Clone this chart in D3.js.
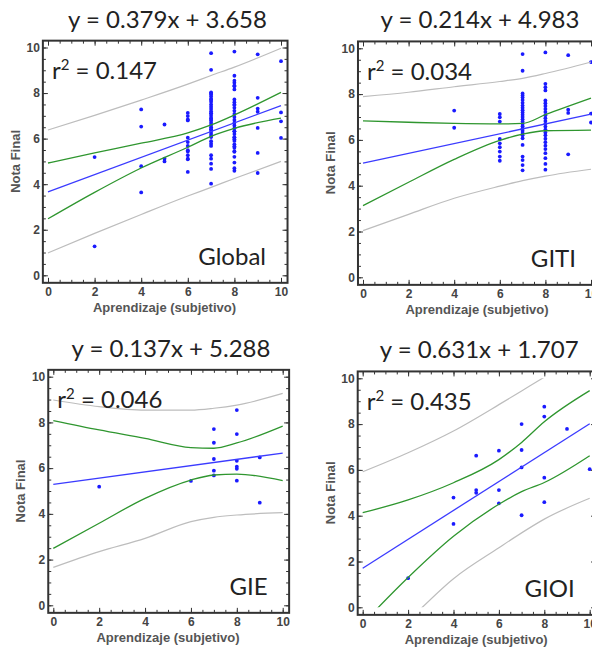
<!DOCTYPE html>
<html>
<head>
<meta charset="utf-8">
<script src="https://cdn.jsdelivr.net/npm/d3@7"></script>
<style>
  body { margin: 0; background: #fff; }
  svg { display: block; }
  .big { font-family: Lato, "Open Sans", sans-serif; font-size: 24px; fill: #222; }
  .tick-lbl { font-family: "Liberation Sans", Arial, sans-serif; font-size: 12px; font-weight: bold; fill: #444; }
  .axis-title { font-family: "Liberation Sans", Arial, sans-serif; font-size: 13px; font-weight: bold; fill: #555; }
</style>
</head>
<body>
<div id="chart"></div>
<script>

var groups = ['Global', 'GITI', 'GIE', 'GIOI'];
var slopes = [0.379, 0.214, 0.137, 0.631];
var intercepts = [3.658, 4.983, 5.288, 1.707];
var r2 = [0.147, 0.034, 0.046, 0.435];

var majorTicks = [0, 2, 4, 6, 8, 10];
var minorTicks = [0, 0.5, 1, 1.5, 2, 2.5, 3, 3.5, 4, 4.5, 5, 5.5, 6, 6.5, 7, 7.5, 8, 8.5, 9, 9.5, 10];

// puntos [aprendizaje, nota final]
var ptsGITI = [
  [4,7.28],[4,6.53],
  [6,7.13],[6,6.99],[6,6.8],[6,6.04],[6,5.85],[6,5.68],[6,5.49],[6,5.27],[6,5.09],
  [7,9.75],[7,9.02],[7,8.03],[7,7.94],[7,7.85],[7,7.74],[7,7.62],[7,7.5],[7,7.4],[7,7.3],[7,7.2],[7,7.1],
  [7,7.0],[7,6.9],[7,6.8],[7,6.7],[7,6.6],[7,6.5],[7,6.4],[7,6.3],[7,6.2],[7,6.07],[7,5.78],[7,5.27],
  [7,5.12],[7,4.9],[7,4.67],
  [8,9.82],[8,8.45],[8,8.3],[8,8.16],[8,7.72],[8,7.6],[8,7.48],[8,7.35],[8,7.22],[8,7.08],[8,6.95],
  [8,6.82],[8,6.7],[8,6.58],[8,6.45],[8,6.32],[8,6.2],[8,6.05],[8,5.9],[8,5.75],[8,5.6],[8,5.42],
  [8,5.2],[8,4.95],[8,4.7],
  [9,9.7],[9,7.32],[9,7.18],[9,5.37],
  [10,9.4],[10,7.15],[10,6.76]
];
var ptsGIE = [
  [2,5.19],[6,5.44],[7,7.71],[7,7.11],[7,6.4],[7,5.89],[7,5.68],
  [8,8.54],[8,7.49],[8,6.32],[8,6.06],[8,5.97],[8,5.45],[9,6.47],[9,4.49]
];
var ptsGIOI = [
  [2,1.27],[4,4.79],[4,3.64],[5,6.62],[5,5.12],[5,5.0],[6,6.84],[6,5.12],[6,4.54],
  [7,8.0],[7,6.87],[7,6.11],[7,4.02],[8,8.76],[8,8.33],[8,5.66],[8,4.59],[9,7.79],[10,6.03]
];
var ptsGlobal = ptsGITI.concat(ptsGIE, ptsGIOI);

var bandX = [0, 2, 4, 6, 7, 8, 10];
var confHi = [
  [4.93, 5.37, 5.80, 6.25, 6.60, 7.04, 8.03],
  [6.83, 6.77, 6.72, 6.70, 6.72, 7.10, 7.82],
  [8.08, 7.67, 7.30, 6.90, 6.87, 7.10, 7.84],
  [4.13, 4.69, 5.44, 6.45, 7.20, 8.10, 9.46]
];
var confLo = [
  [2.48, 3.64, 4.71, 5.62, 6.10, 6.45, 6.90],
  [3.13, 4.15, 5.15, 5.98, 6.25, 6.40, 6.43],
  [2.49, 3.59, 4.68, 5.48, 5.70, 5.74, 5.45],
  [-0.71, 1.30, 3.10, 4.50, 5.05, 5.45, 6.62]
];
var predHi = [
  [6.38, 7.02, 7.69, 8.39, 8.77, 9.14, 9.97],
  [7.89, 8.08, 8.32, 8.55, 8.69, 8.90, 9.40],
  [8.98, 8.69, 8.54, 8.54, 8.62, 8.76, 9.27],
  [5.92, 6.75, 7.70, 8.85, 9.45, 10.05, 11.30]
];
var predLo = [
  [0.98, 1.84, 2.67, 3.48, 3.86, 4.25, 5.00],
  [2.04, 2.75, 3.45, 3.98, 4.22, 4.42, 4.72],
  [1.66, 2.35, 2.93, 3.66, 3.85, 3.95, 4.05],
  [-2.50, -0.60, 1.25, 2.60, 3.25, 3.85, 4.76]
];

var points = [ptsGlobal, ptsGITI, ptsGIE, ptsGIOI];

// pixel position of x=0 / x=10 and y=10 / y=0 for each panel
var panels = [
  { left: 48, right: 281, top: 47.5, bottom: 275.3 },
  { left: 363, right: 591, top: 48.3, bottom: 277.3 },
  { left: 53.3, right: 282.7, top: 376.7, bottom: 605.3 },
  { left: 362.7, right: 589.7, top: 378.3, bottom: 607.3 }
];

var svg = d3.select('#chart')
  .append('svg')
    .attr('width', 592)
    .attr('height', 651);

var fmt = d3.format('.3f');

panels.forEach(function (p, i) {

  var x = d3.scaleLinear().domain([0, 10]).range([p.left, p.right]);
  var y = d3.scaleLinear().domain([0, 10]).range([p.bottom, p.top]);

  var g = svg.append('g');

  var fx0 = x(-0.22), fx1 = x(10.28), fy0 = y(10.3), fy1 = y(-0.33);

  g.append('clipPath')
      .attr('id', 'clip' + i)
    .append('rect')
      .attr('x', x(-0.05))
      .attr('y', y(10))
      .attr('width', x(10.05) - x(-0.05))
      .attr('height', y(0) - y(10));

  // dots
  g.append('g').selectAll('circle')
      .data(points[i])
      .enter()
    .append('circle')
      .attr('cx', function (d) { return x(d[0]); })
      .attr('cy', function (d) { return y(d[1]); })
      .attr('r', 1.9)
      .attr('fill', '#1a1aff');

  var curve = d3.line()
      .x(function (d) { return x(d[0]); })
      .y(function (d) { return y(d[1]); })
      .curve(d3.curveMonotoneX);

  function band(arr) {
    return bandX.map(function (v, k) { return [v, arr[k]]; });
  }

  var lines = g.append('g').attr('clip-path', 'url(#clip' + i + ')');

  [predHi[i], predLo[i]].forEach(function (arr) {
    lines.append('path')
        .attr('d', curve(band(arr)))
        .attr('fill', 'none')
        .attr('stroke', '#bdbdbd')
        .attr('stroke-width', 1.2);
  });

  [confHi[i], confLo[i]].forEach(function (arr) {
    lines.append('path')
        .attr('d', curve(band(arr)))
        .attr('fill', 'none')
        .attr('stroke', '#2f962f')
        .attr('stroke-width', 1.3);
  });

  lines.append('path')
      .attr('d', d3.line()
        .x(function (d) { return x(d); })
        .y(function (d) { return y(intercepts[i] + slopes[i] * d); })([0, 10]))
      .attr('fill', 'none')
      .attr('stroke', '#3b3bff')
      .attr('stroke-width', 1.3);

  // ticks, all pointing inside the frame
  function ticks(axis, size, tv, labels) {
    return axis
      .tickValues(tv)
      .tickSizeInner(-size)
      .tickSizeOuter(0)
      .tickFormat(labels ? d3.format('d') : '');
  }

  var sides = [
    [function () { return d3.axisBottom(x); }, 'translate(0,' + fy1 + ')', true, 5],
    [function () { return d3.axisLeft(y); }, 'translate(' + fx0 + ',0)', true, 3],
    [function () { return d3.axisTop(x); }, 'translate(0,' + fy0 + ')', false, 0],
    [function () { return d3.axisRight(y); }, 'translate(' + fx1 + ',0)', false, 0]
  ];

  sides.forEach(function (s) {
    g.append('g')
        .attr('transform', s[1])
        .call(ticks(s[0](), 5, majorTicks, s[2]).tickPadding(s[3]))
        .call(function (a) { a.select('.domain').remove(); })
        .call(function (a) {
          a.attr('font-family', null).attr('font-size', null);
          a.selectAll('line').attr('stroke', '#333');
          a.selectAll('text').attr('class', 'tick-lbl');
        });

    g.append('g')
        .attr('transform', s[1])
        .call(ticks(s[0](), 3, minorTicks, false))
        .call(function (a) { a.select('.domain').remove(); })
        .call(function (a) { a.selectAll('line').attr('stroke', '#333'); });
  });

  // frame
  g.append('rect')
      .attr('x', fx0)
      .attr('y', fy0)
      .attr('width', fx1 - fx0)
      .attr('height', fy1 - fy0)
      .attr('fill', 'none')
      .attr('stroke', '#333')
      .attr('stroke-width', 2);

  // axis titles
  g.append('text')
      .attr('class', 'axis-title')
      .attr('x', x(5))
      .attr('y', fy1 + 29)
      .attr('text-anchor', 'middle')
      .text('Aprendizaje (subjetivo)');

  g.append('text')
      .attr('class', 'axis-title')
      .attr('transform', 'translate(' + (fx0 - 23) + ',' + y(5) + ') rotate(-90)')
      .attr('text-anchor', 'middle')
      .text('Nota Final');

  // equation
  g.append('text')
      .attr('class', 'big')
      .attr('x', x(5) + 3)
      .attr('y', y(10) - 20)
      .attr('text-anchor', 'middle')
      .text('y = ' + fmt(slopes[i]) + 'x + ' + fmt(intercepts[i]));

  var rt = g.append('text')
      .attr('class', 'big')
      .attr('x', x(0) + 4)
      .attr('y', y(10) + 31.5);
  rt.append('tspan').text('r');
  rt.append('tspan').attr('dy', -9).attr('font-size', 15).text('2');
  rt.append('tspan').attr('dy', 9).text(' = ' + fmt(r2[i]));

  g.append('text')
      .attr('class', 'big')
      .attr('x', x(10) - 15)
      .attr('y', y(0) - 10)
      .attr('text-anchor', 'end')
      .text(groups[i]);
});

</script>
</body>
</html>
